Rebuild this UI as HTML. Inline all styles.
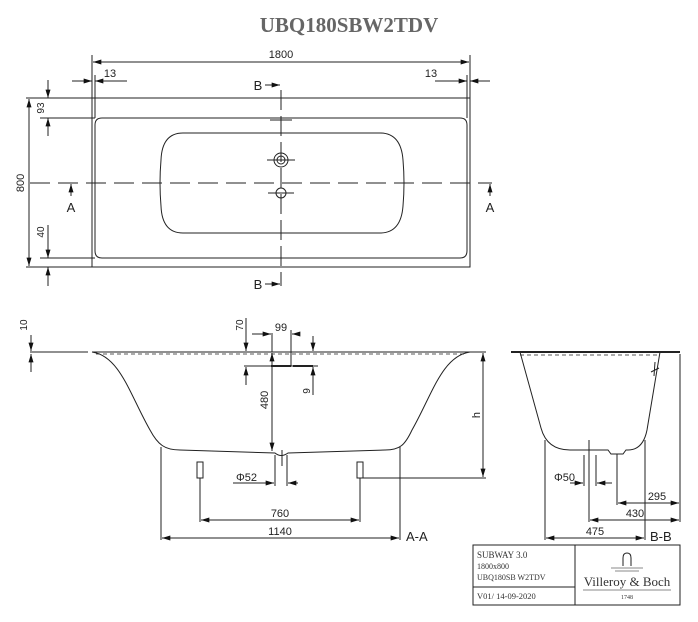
<!DOCTYPE html>
<html><head><meta charset="utf-8"><style>
html,body{margin:0;padding:0;background:#fff}
svg{display:block}
text{font-family:"Liberation Sans",sans-serif;font-size:11px;fill:#222}
.s{font-family:"Liberation Serif",serif;fill:#333}
</style></head><body>
<svg width="698" height="622" viewBox="0 0 698 622" xmlns="http://www.w3.org/2000/svg">
<defs>
<marker id="a" viewBox="0 0 10 6" refX="10" refY="3" markerWidth="9" markerHeight="5" orient="auto-start-reverse"><path d="M0,0L10,3L0,6z" fill="#111"/></marker>
</defs>
<text x="349" y="32" text-anchor="middle" class="s" style="font-size:21px;font-weight:bold;fill:#666">UBQ180SBW2TDV</text>
<g stroke="#222" stroke-width="1" fill="none">
<rect x="92" y="98" width="378" height="169"/>
<path d="M102,118H460Q467,118 467,125V251Q467,258 460,258H102Q95,258 95,251V125Q95,118 102,118Z"/>
<path d="M183,133H380Q401,133 403,160Q405,183 403,206Q401,233 380,233H183Q162,233 161,206Q159,183 161,160Q162,133 183,133Z"/>
<line x1="30" y1="183" x2="492" y2="183" stroke-dasharray="20,8"/>
<line x1="281" y1="90" x2="281" y2="286" stroke-dasharray="20,6"/>
<line x1="270" y1="120" x2="292" y2="120"/>
<circle cx="281" cy="160" r="7"/><circle cx="281" cy="160" r="4"/>
<line x1="267" y1="160" x2="295" y2="160"/>
<circle cx="281" cy="193" r="5"/><line x1="268" y1="193" x2="294" y2="193"/>
<line x1="92" y1="55" x2="92" y2="98"/><line x1="470" y1="55" x2="470" y2="98"/>
<line x1="93" y1="62" x2="469" y2="62" marker-start="url(#a)" marker-end="url(#a)"/>
<line x1="95" y1="75" x2="95" y2="118"/><line x1="467" y1="75" x2="467" y2="118"/>
<line x1="72" y1="81" x2="92" y2="81" marker-end="url(#a)"/><line x1="127" y1="81" x2="95" y2="81" marker-end="url(#a)"/>
<line x1="435" y1="81" x2="467" y2="81" marker-end="url(#a)"/><line x1="490" y1="81" x2="470" y2="81" marker-end="url(#a)"/>
<line x1="26" y1="98" x2="92" y2="98"/><line x1="26" y1="267" x2="92" y2="267"/><line x1="40" y1="118" x2="95" y2="118"/><line x1="40" y1="258" x2="95" y2="258"/>
<line x1="29" y1="99" x2="29" y2="266" marker-start="url(#a)" marker-end="url(#a)"/>
<line x1="48" y1="80" x2="48" y2="98" marker-end="url(#a)"/><line x1="48" y1="136" x2="48" y2="118" marker-end="url(#a)"/>
<line x1="48" y1="225" x2="48" y2="258" marker-end="url(#a)"/><line x1="48" y1="286" x2="48" y2="267" marker-end="url(#a)"/>
<line x1="71" y1="196" x2="71" y2="184" marker-end="url(#a)"/><line x1="490" y1="196" x2="490" y2="184" marker-end="url(#a)"/>
<line x1="265" y1="85" x2="280" y2="85" marker-end="url(#a)"/><line x1="265" y1="284" x2="280" y2="284" marker-end="url(#a)"/>
<line x1="30" y1="352" x2="88" y2="352"/>
<path d="M92,352H470"/>
<path d="M92,352C120,356 130,395 150,430C158,445 165,450 180,450L275,453Q281,458 288,453L385,450C400,450 405,445 412,430C432,395 442,356 470,352" />
<line x1="96" y1="354" x2="466" y2="354" stroke-dasharray="4,3" stroke-width="0.8"/>
<line x1="161" y1="447" x2="161" y2="540"/><line x1="400" y1="447" x2="400" y2="540"/>
<line x1="162" y1="538" x2="399" y2="538" marker-start="url(#a)" marker-end="url(#a)"/>
<rect x="197" y="462" width="6" height="16"/><rect x="357" y="462" width="6" height="16"/>
<line x1="200" y1="478" x2="200" y2="522"/><line x1="360" y1="478" x2="360" y2="522"/>
<line x1="201" y1="520" x2="359" y2="520" marker-start="url(#a)" marker-end="url(#a)"/>
<line x1="363" y1="478" x2="486" y2="478"/><line x1="470" y1="352" x2="486" y2="352"/>
<line x1="483" y1="353" x2="483" y2="477" marker-start="url(#a)" marker-end="url(#a)"/>
<line x1="275" y1="455" x2="275" y2="486"/><line x1="287" y1="455" x2="287" y2="486"/><line x1="282" y1="450" x2="282" y2="466"/>
<line x1="233" y1="483" x2="274" y2="483" marker-end="url(#a)"/><line x1="298" y1="483" x2="288" y2="483" marker-end="url(#a)"/>
<line x1="272" y1="353" x2="272" y2="451" marker-start="url(#a)" marker-end="url(#a)"/>
<line x1="272" y1="333" x2="272" y2="352"/><line x1="291" y1="330" x2="291" y2="366"/>
<line x1="252" y1="334" x2="271" y2="334" marker-end="url(#a)"/><line x1="300" y1="334" x2="292" y2="334" marker-end="url(#a)"/>
<line x1="244" y1="366" x2="318" y2="366"/>
<line x1="271" y1="366" x2="291" y2="366" stroke-width="2"/><line x1="293" y1="366" x2="313" y2="366" stroke-width="2"/>
<line x1="246" y1="318" x2="246" y2="351" marker-end="url(#a)"/><line x1="246" y1="385" x2="246" y2="367" marker-end="url(#a)"/>
<line x1="313" y1="395" x2="313" y2="367" marker-end="url(#a)"/><line x1="313" y1="336" x2="313" y2="351" marker-end="url(#a)"/>
<line x1="31" y1="335" x2="31" y2="351" marker-end="url(#a)"/><line x1="31" y1="372" x2="31" y2="354" marker-end="url(#a)"/>
<line x1="511" y1="352" x2="680" y2="352" stroke-width="2"/>
<line x1="520" y1="355" x2="660" y2="355" stroke-dasharray="4,3" stroke-width="0.8"/>
<path d="M520,352L541,428Q547,450 570,450H608L611,454H623L626,450H628Q643,450 647,430L660,352"/>
<line x1="651" y1="372" x2="659" y2="368"/><line x1="655" y1="362" x2="654" y2="376"/>
<line x1="545" y1="440" x2="545" y2="540"/><line x1="645" y1="440" x2="645" y2="540"/>
<line x1="546" y1="538" x2="644" y2="538" marker-start="url(#a)" marker-end="url(#a)"/>
<line x1="589" y1="440" x2="589" y2="522"/><line x1="590" y1="520" x2="679" y2="520" marker-start="url(#a)" marker-end="url(#a)"/>
<line x1="680" y1="354" x2="680" y2="522"/>
<line x1="617" y1="454" x2="617" y2="505"/><line x1="618" y1="503" x2="679" y2="503" marker-start="url(#a)" marker-end="url(#a)"/>
<line x1="584" y1="455" x2="584" y2="486"/><line x1="596" y1="455" x2="596" y2="486"/>
<line x1="570" y1="483" x2="583" y2="483" marker-end="url(#a)"/><line x1="612" y1="483" x2="597" y2="483" marker-end="url(#a)"/>
<rect x="473" y="545" width="207" height="60"/>
<line x1="575" y1="545" x2="575" y2="605"/><line x1="473" y1="587" x2="575" y2="587"/>
<path d="M623,566V558Q623,553 627,553Q631,553 631,558V566"/>
<line x1="611" y1="568" x2="643" y2="568" stroke="#888"/><line x1="615" y1="571" x2="639" y2="571" stroke="#888"/>
<line x1="583" y1="590" x2="671" y2="590" stroke="#888"/>
</g>
<text x="281" y="58" text-anchor="middle">1800</text>
<text x="110" y="77" text-anchor="middle">13</text>
<text x="431" y="77" text-anchor="middle">13</text>
<text transform="translate(24,183) rotate(-90)" text-anchor="middle">800</text>
<text transform="translate(44,108) rotate(-90)" text-anchor="middle" style="font-size:10px">93</text>
<text transform="translate(44,232) rotate(-90)" text-anchor="middle" style="font-size:10px">40</text>
<text x="71" y="212" text-anchor="middle" style="font-size:13px">A</text>
<text x="490" y="212" text-anchor="middle" style="font-size:13px">A</text>
<text x="258" y="90" text-anchor="middle" style="font-size:13px">B</text>
<text x="258" y="289" text-anchor="middle" style="font-size:13px">B</text>
<text transform="translate(27,325) rotate(-90)" text-anchor="middle" style="font-size:10px">10</text>
<text transform="translate(243,325) rotate(-90)" text-anchor="middle" style="font-size:10px">70</text>
<text x="281" y="331" text-anchor="middle">99</text>
<text transform="translate(310,391) rotate(-90)" text-anchor="middle" style="font-size:10px">9</text>
<text transform="translate(268,400) rotate(-90)" text-anchor="middle">480</text>
<text transform="translate(480,415) rotate(-90)" text-anchor="middle">h</text>
<text x="236" y="481">Φ52</text>
<text x="280" y="517" text-anchor="middle">760</text>
<text x="280" y="535" text-anchor="middle">1140</text>
<text x="406" y="541" style="font-size:13px">A-A</text>
<text x="554" y="481">Φ50</text>
<text x="657" y="500" text-anchor="middle">295</text>
<text x="635" y="517" text-anchor="middle">430</text>
<text x="595" y="535" text-anchor="middle">475</text>
<text x="650" y="541" style="font-size:13px">B-B</text>
<text x="477" y="558" class="s" style="font-size:9px">SUBWAY 3.0</text>
<text x="477" y="569" class="s" style="font-size:8px">1800x800</text>
<text x="477" y="580" class="s" style="font-size:8px">UBQ180SB W2TDV</text>
<text x="477" y="599" class="s" style="font-size:8.5px">V01/ 14-09-2020</text>
<text x="627" y="586" text-anchor="middle" class="s" style="font-size:13px">Villeroy &amp; Boch</text>
<text x="627" y="599" text-anchor="middle" class="s" style="font-size:6px">1748</text>
</svg>
</body></html>
